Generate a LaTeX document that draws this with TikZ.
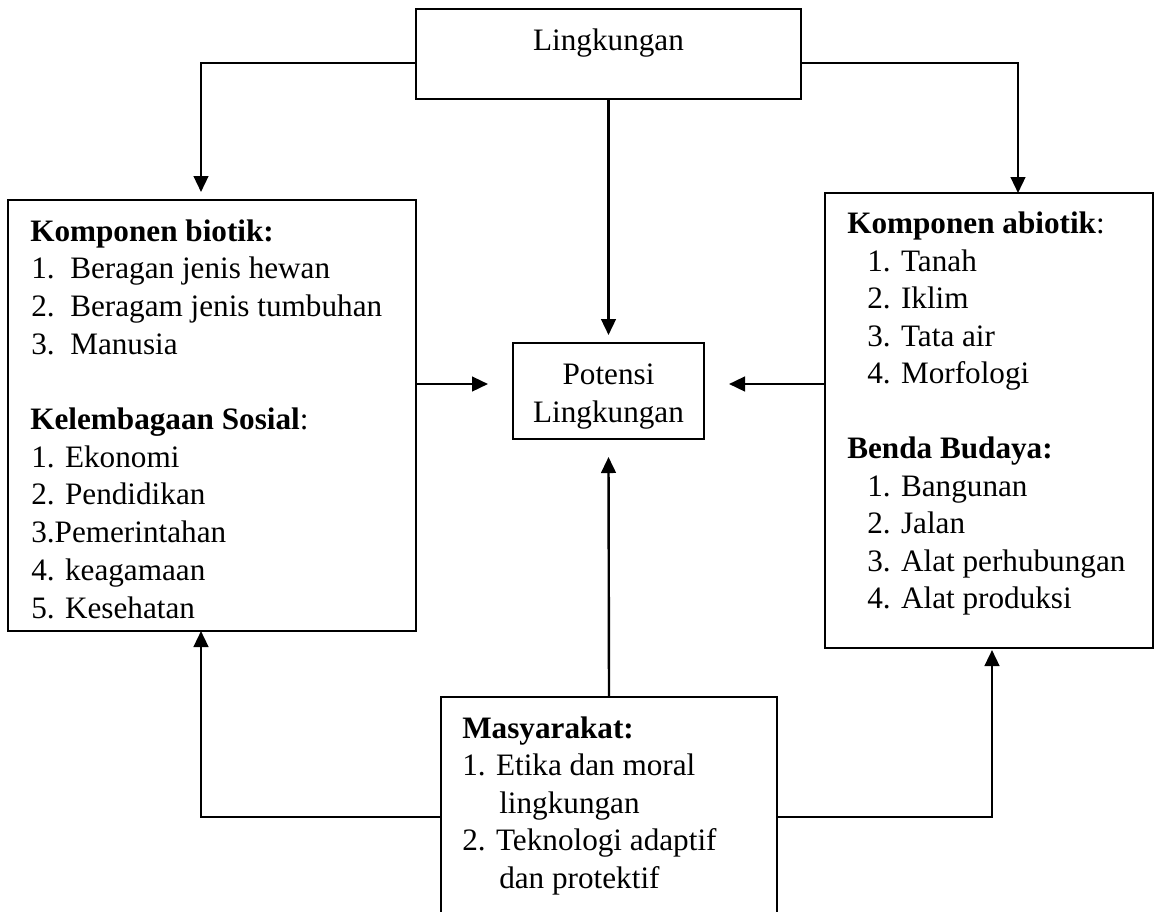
\documentclass[tikz,border=0pt]{standalone}
\usepackage{fontspec}
\setmainfont{Liberation Serif}
\usetikzlibrary{arrows.meta}
\begin{document}
\begin{tikzpicture}[x=0.75pt,y=-0.75pt,
  box/.style={draw,line width=1.8pt,inner sep=0pt,outer sep=0pt},
  conn/.style={line width=1.8pt},
  arr/.style={conn,-{Triangle[length=12pt,width=11pt]}},
  txt/.style={anchor=base west,inner sep=0pt,font=\fontsize{23.4}{28}\selectfont},
  ctxt/.style={anchor=base,inner sep=0pt,font=\fontsize{23.4}{28}\selectfont}]
\useasboundingbox (0,0) rectangle (1156,911);
\clip (0,0) rectangle (1156,911);

% boxes
\node[box,minimum width=288.75pt,minimum height=67.5pt] (top) at (608.5,54) {};
\node[box,minimum width=306pt,minimum height=323.25pt] (left) at (212,415.5) {};
\node[box,minimum width=246pt,minimum height=341.25pt] (right) at (989,420.5) {};
\node[box,minimum width=143.25pt,minimum height=72pt] (cen) at (608.5,391) {};
\node[box,minimum width=252pt,minimum height=174.75pt] (bot) at (609,813.5) {};

% texts
\node[ctxt] (ttop) at (608.5,50) {Lingkungan};
\node[ctxt] (tcen1) at (608.5,384) {Potensi};
\node[ctxt] (tcen2) at (608.5,422) {Lingkungan};

\foreach \t/\x [count=\i from 0] in {
  {\textbf{Komponen biotik:}}/30,
  {1.\ \ Beragan jenis hewan}/31,
  {2.\ \ Beragam jenis tumbuhan}/31,
  {3.\ \ Manusia}/31,
  {}/31,
  {\textbf{Kelembagaan Sosial}:}/30,
  {1. Ekonomi}/31,
  {2. Pendidikan}/31,
  {3.Pemerintahan}/31,
  {4. keagamaan}/31,
  {5. Kesehatan}/31}
  \node[txt] (lt\i) at (\x,241+37.7*\i) {\t};

\foreach \t/\x [count=\i from 0] in {
  {\textbf{Komponen abiotik}:}/847,
  {1. Tanah}/867,
  {2. Iklim}/867,
  {3. Tata air}/867,
  {4. Morfologi}/867,
  {}/867,
  {\textbf{Benda Budaya:}}/847,
  {1. Bangunan}/867,
  {2. Jalan}/867,
  {3. Alat perhubungan}/867,
  {4. Alat produksi}/867}
  \node[txt] (rt\i) at (\x,233.5+37.5*\i) {\t};

\foreach \t/\x [count=\i from 0] in {
  {\textbf{Masyarakat:}}/462,
  {1. Etika dan moral}/462,
  {lingkungan}/499,
  {2. Teknologi adaptif}/462,
  {dan protektif}/499}
  \node[txt] (bt\i) at (\x,738+37.5*\i) {\t};

% connectors
\draw[arr] ([yshift=-6.75pt]top.west) -| ([xshift=-8.25pt,yshift=6pt]left.north);
\draw[arr] ([yshift=-6.75pt]top.east) -| ([xshift=21.75pt]right.north);
\draw[arr] (top.south) -- ([yshift=6pt]cen.north);
\draw[arr] ([yshift=23.625pt]left.east) -- ([xshift=-18.75pt,yshift=5.25pt]cen.west);
\draw[arr] ([yshift=27.375pt]right.west) -- ([xshift=18.75pt,yshift=5.25pt]cen.east);
\draw[arr] (bot.north) -- ([yshift=-13.5pt]cen.south);
\draw[arr] ([yshift=-2.625pt]bot.west) -| ([xshift=-8.25pt]left.south);
\draw[arr] ([yshift=-2.625pt]bot.east) -| ([xshift=2.25pt,yshift=-1.5pt]right.south);
\end{tikzpicture}
\end{document}
